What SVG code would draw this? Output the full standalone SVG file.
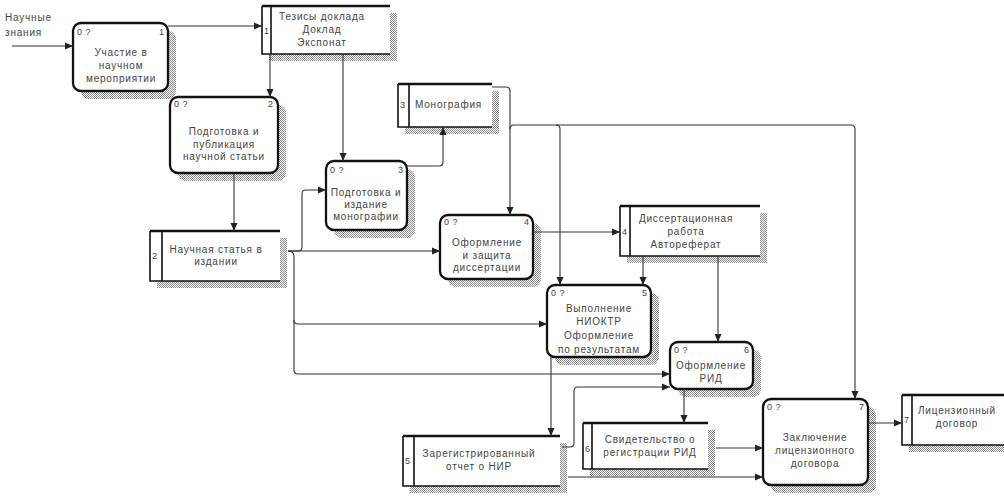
<svg xmlns="http://www.w3.org/2000/svg" width="1004" height="501" viewBox="0 0 1004 501">
<defs>
<pattern id="dither" width="2" height="2" patternUnits="userSpaceOnUse"><rect width="1" height="1" fill="#888"/><rect x="1" y="1" width="1" height="1" fill="#888"/></pattern>
<marker id="arr" markerUnits="userSpaceOnUse" markerWidth="9" markerHeight="8" refX="8" refY="4" orient="auto"><path d="M0,0.5 L8,4 L0,7.5 z" fill="#222"/></marker>
</defs>
<style>
text{font-family:"Liberation Sans",Arial,sans-serif;font-size:10px;fill:#444;letter-spacing:0.8px}
.c{text-anchor:middle}
.sm{font-size:9px;letter-spacing:0.5px}
.sh{fill:url(#dither)}
.nd{fill:#fff;stroke:#111;stroke-width:2.3}
.bx{fill:#fff;stroke:none}
.bl{fill:none;stroke:#111;stroke-width:1.6}
.bt{fill:none;stroke:#111;stroke-width:2.5}
.cn path{fill:none;stroke:#333;stroke-width:1.1}
.cn path.a{marker-end:url(#arr)}
</style>
<rect width="1004" height="501" fill="#fff"/>

<g id="input-label">
<text x="5" y="21">Научные</text>
<text x="5" y="36">знания</text>
</g>

<g id="node1">
<rect class="sh" x="81" y="31" width="95" height="68" rx="8"/>
<rect class="nd" x="73" y="23" width="95" height="68" rx="8"/>
<text class="sm" x="77" y="35">0 ?</text><text class="sm" x="159" y="35">1</text>
<text class="c" x="121" y="56">Участие в</text>
<text class="c" x="121" y="69">научном</text>
<text class="c" x="121" y="82">мероприятии</text>
</g>

<g id="node2">
<rect class="sh" x="178" y="105" width="108" height="76" rx="8"/>
<rect class="nd" x="170" y="97" width="108" height="76" rx="8"/>
<text class="sm" x="174" y="107">0 ?</text><text class="sm" x="268" y="107">2</text>
<text class="c" x="224" y="135">Подготовка и</text>
<text class="c" x="224" y="148">публикация</text>
<text class="c" x="224" y="160">научной статьи</text>
</g>

<g id="node3">
<rect class="sh" x="334" y="169" width="81" height="69" rx="8"/>
<rect class="nd" x="326" y="161" width="81" height="69" rx="8"/>
<text class="sm" x="330" y="173">0 ?</text><text class="sm" x="398" y="173">3</text>
<text class="c" x="366" y="196">Подготовка и</text>
<text class="c" x="366" y="208">издание</text>
<text class="c" x="366" y="220">монографии</text>
</g>

<g id="node4">
<rect class="sh" x="448" y="223" width="93" height="64" rx="8"/>
<rect class="nd" x="440" y="215" width="93" height="64" rx="8"/>
<text class="sm" x="444" y="225">0 ?</text><text class="sm" x="524" y="225">4</text>
<text class="c" x="487" y="246">Оформление</text>
<text class="c" x="487" y="259">и защита</text>
<text class="c" x="487" y="271">диссертации</text>
</g>

<g id="node5">
<rect class="sh" x="555" y="293" width="104" height="72" rx="8"/>
<rect class="nd" x="547" y="285" width="104" height="72" rx="8"/>
<text class="sm" x="551" y="296">0 ?</text><text class="sm" x="642" y="296">5</text>
<text class="c" x="599" y="312">Выполнение</text>
<text class="c" x="599" y="325">НИОКТР</text>
<text class="c" x="599" y="339">Оформление</text>
<text class="c" x="599" y="353">по результатам</text>
</g>

<g id="node6">
<rect class="sh" x="678" y="350" width="83" height="47" rx="8"/>
<rect class="nd" x="670" y="342" width="83" height="47" rx="8"/>
<text class="sm" x="674" y="353">0 ?</text><text class="sm" x="744" y="353">6</text>
<text class="c" x="711" y="369">Оформление</text>
<text class="c" x="711" y="382">РИД</text>
</g>

<g id="node7">
<rect class="sh" x="771" y="407" width="105" height="86" rx="8"/>
<rect class="nd" x="763" y="399" width="105" height="86" rx="8"/>
<text class="sm" x="767" y="410">0 ?</text><text class="sm" x="859" y="410">7</text>
<text class="c" x="815" y="441">Заключение</text>
<text class="c" x="815" y="454">лицензионного</text>
<text class="c" x="815" y="467">договора</text>
</g>

<g id="box1">
<rect class="sh" x="269" y="13" width="128" height="48"/>
<rect class="bx" x="262" y="6" width="128" height="48"/>
<path class="bl" d="M390,54 H262 V6 M271,6 V54"/>
<path class="bt" d="M262,6 H390"/>
<text class="sm" x="264" y="34">1</text>
<text class="c" x="322" y="20">Тезисы доклада</text>
<text class="c" x="322" y="33">Доклад</text>
<text class="c" x="322" y="46">Экспонат</text>
</g>

<g id="box2">
<rect class="sh" x="157" y="238" width="130" height="50"/>
<rect class="bx" x="150" y="231" width="130" height="50"/>
<path class="bl" d="M280,281 H150 V231 M162,231 V281"/>
<path class="bt" d="M150,231 H280"/>
<text class="sm" x="152" y="259">2</text>
<text class="c" x="216" y="253">Научная статья в</text>
<text class="c" x="216" y="265">издании</text>
</g>

<g id="box3">
<rect class="sh" x="405" y="91" width="94" height="43"/>
<rect class="bx" x="398" y="84" width="94" height="43"/>
<path class="bl" d="M492,127 H398 V84 M409,84 V127"/>
<path class="bt" d="M398,84 H492"/>
<text class="sm" x="400" y="108">3</text>
<text x="415" y="108">Монография</text>
</g>

<g id="box4">
<rect class="sh" x="627" y="213" width="140" height="50"/>
<rect class="bx" x="620" y="206" width="140" height="50"/>
<path class="bl" d="M760,256 H620 V206 M630,206 V256"/>
<path class="bt" d="M620,206 H760"/>
<text class="sm" x="622" y="235">4</text>
<text class="c" x="686" y="222">Диссертационная</text>
<text class="c" x="686" y="235">работа</text>
<text class="c" x="686" y="248">Автореферат</text>
</g>

<g id="box5">
<rect class="sh" x="410" y="443" width="157" height="50"/>
<rect class="bx" x="403" y="436" width="157" height="50"/>
<path class="bl" d="M560,486 H403 V436 M414,436 V486"/>
<path class="bt" d="M403,436 H560"/>
<text class="sm" x="405" y="464">5</text>
<text class="c" x="479" y="457">Зарегистрированный</text>
<text class="c" x="479" y="470">отчет о НИР</text>
</g>

<g id="box6">
<rect class="sh" x="590" y="430" width="125" height="46"/>
<rect class="bx" x="583" y="423" width="125" height="46"/>
<path class="bl" d="M708,469 H583 V423 M592,423 V469"/>
<path class="bt" d="M583,423 H708"/>
<text class="sm" x="585" y="452">6</text>
<text class="c" x="650" y="443">Свидетельство о</text>
<text class="c" x="650" y="456">регистрации РИД</text>
</g>

<g id="box7">
<rect class="sh" x="909" y="402" width="101" height="50"/>
<rect class="bx" x="902" y="395" width="102" height="50"/>
<path class="bl" d="M1004,445 H902 V395 M912,395 V445"/>
<path class="bt" d="M902,395 H1004"/>
<text class="sm" x="904" y="423">7</text>
<text class="c" x="957" y="414">Лицензионный</text>
<text class="c" x="957" y="427">договор</text>
</g>

<g id="connectors" class="cn">
<path class="a" d="M12,46 H73"/>
<path class="a" d="M168,26 H262"/>
<path class="a" d="M270,54 V97"/>
<path class="a" d="M343,54 V161"/>
<path class="a" d="M234,173 V231"/>
<path class="a" d="M407,166 H439 Q443,166 443,162 V127"/>
<path class="a" d="M288,251 H298 Q302,251 302,247 V194 Q302,190 306,190 H326"/>
<path class="a" d="M288,251 H440"/>
<path class="a" d="M288,251 Q294,251 294,257 V320 Q294,324 298,324 H547"/>
<path class="a" d="M294,320 V370 Q294,374 298,374 H670"/>
<path class="a" d="M492,87 H506 Q510,87 510,91 V215"/>
<path class="a" d="M510,129 Q510,125 514,125 H556 Q560,125 560,129 V285"/>
<path class="a" d="M556,125 H851 Q855,125 855,129 V399"/>
<path class="a" d="M533,232 H620"/>
<path class="a" d="M643,256 V285"/>
<path class="a" d="M718,256 V342"/>
<path class="a" d="M551,357 V436"/>
<path class="a" d="M562,447 H570 Q574,447 574,443 V391 Q574,387 578,387 H670"/>
<path class="a" d="M684,389 V423"/>
<path class="a" d="M716,448 H763"/>
<path class="a" d="M568,477 H763"/>
<path class="a" d="M868,423 H902"/>
</g>
</svg>
